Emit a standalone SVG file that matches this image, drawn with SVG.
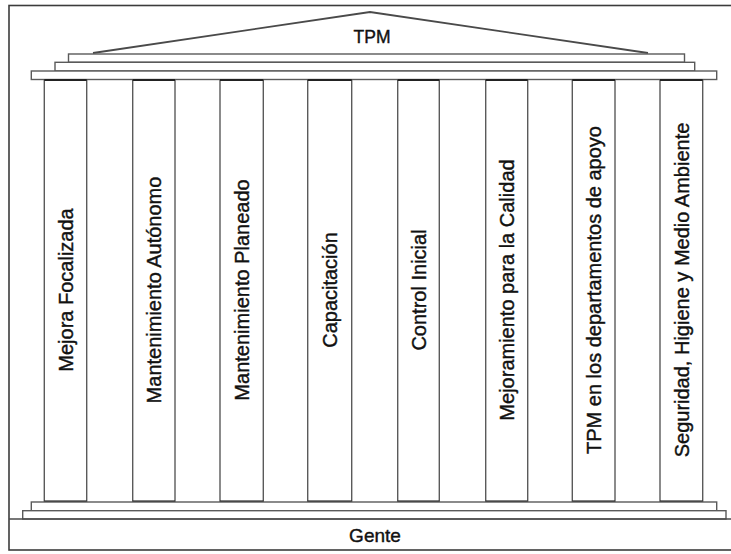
<svg xmlns="http://www.w3.org/2000/svg" width="731" height="554" viewBox="0 0 731 554">
<style>
.ln{fill:#fff;stroke:#5a5a5a;stroke-width:1.4}
.col{fill:#fff;stroke:#5a5a5a;stroke-width:1.4}
.cap{stroke:#222;stroke-width:2}
.t{font-family:"Liberation Sans",Arial,sans-serif;fill:#111;stroke:#111;stroke-width:0.4}
.ct{font-size:20px;text-anchor:middle}
.ht{font-size:17.5px;text-anchor:middle}
</style>
<rect x="0" y="0" width="731" height="554" fill="#fff"/>
<rect id="frame" x="9" y="5.5" width="740" height="544.5" fill="#fff" stroke="#3c3c3c" stroke-width="1.6"/>
<g id="roof">
<polyline points="93,53 370,12 648,53" fill="none" stroke="#4a4a4a" stroke-width="1.8"/>
<rect class="ln" x="68.5" y="54" width="616" height="8.3"/>
<rect class="ln" x="55" y="62.3" width="639.7" height="8.7"/>
<rect class="ln" x="31.3" y="71" width="685.4" height="8.5"/>
<text class="t ht" x="372" y="43">TPM</text>
</g>
<g id="pillars">
<g id="p1"><rect class="col" x="44.3" y="80" width="42.4" height="421.5"/><line class="cap" x1="44.3" y1="80" x2="86.7" y2="80"/><line class="cap" x1="44.3" y1="501.5" x2="86.7" y2="501.5"/><text class="t ct" transform="translate(65.5,290) rotate(-90)" y="7.2">Mejora Focalizada</text></g>
<g id="p2"><rect class="col" x="132.7" y="80" width="42.3" height="421.5"/><line class="cap" x1="132.7" y1="80" x2="175" y2="80"/><line class="cap" x1="132.7" y1="501.5" x2="175" y2="501.5"/><text class="t ct" transform="translate(153.8,290) rotate(-90)" y="7.2">Mantenimiento Autónomo</text></g>
<g id="p3"><rect class="col" x="220" y="80" width="43.3" height="421.5"/><line class="cap" x1="220" y1="80" x2="263.3" y2="80"/><line class="cap" x1="220" y1="501.5" x2="263.3" y2="501.5"/><text class="t ct" transform="translate(241.7,290) rotate(-90)" y="7.2">Mantenimiento Planeado</text></g>
<g id="p4"><rect class="col" x="307.7" y="80" width="44" height="421.5"/><line class="cap" x1="307.7" y1="80" x2="351.7" y2="80"/><line class="cap" x1="307.7" y1="501.5" x2="351.7" y2="501.5"/><text class="t ct" transform="translate(329.7,290) rotate(-90)" y="7.2">Capacitación</text></g>
<g id="p5"><rect class="col" x="397.7" y="80" width="41.6" height="421.5"/><line class="cap" x1="397.7" y1="80" x2="439.3" y2="80"/><line class="cap" x1="397.7" y1="501.5" x2="439.3" y2="501.5"/><text class="t ct" transform="translate(418.5,290) rotate(-90)" y="7.2">Control Inicial</text></g>
<g id="p6"><rect class="col" x="485.7" y="80" width="42" height="421.5"/><line class="cap" x1="485.7" y1="80" x2="527.7" y2="80"/><line class="cap" x1="485.7" y1="501.5" x2="527.7" y2="501.5"/><text class="t ct" transform="translate(506.7,290) rotate(-90)" y="7.2">Mejoramiento para la Calidad</text></g>
<g id="p7"><rect class="col" x="572.3" y="80" width="42.7" height="421.5"/><line class="cap" x1="572.3" y1="80" x2="615" y2="80"/><line class="cap" x1="572.3" y1="501.5" x2="615" y2="501.5"/><text class="t ct" transform="translate(593.7,290) rotate(-90)" y="7.2">TPM en los departamentos de apoyo</text></g>
<g id="p8"><rect class="col" x="660" y="80" width="42.7" height="421.5"/><line class="cap" x1="660" y1="80" x2="702.7" y2="80"/><line class="cap" x1="660" y1="501.5" x2="702.7" y2="501.5"/><text class="t ct" transform="translate(681.3,290) rotate(-90)" y="7.2">Seguridad, Higiene y Medio Ambiente</text></g>
</g>
<g id="base">
<rect class="ln" x="31.3" y="502" width="685.4" height="8.7"/>
<rect class="ln" x="22.7" y="510.7" width="703.3" height="8.3"/>
<line x1="9" y1="519" x2="731" y2="519" stroke="#4a4a4a" stroke-width="1.6"/>
<text class="t ht" x="375" y="541.5" style="font-size:19px">Gente</text>
</g>
</svg>
